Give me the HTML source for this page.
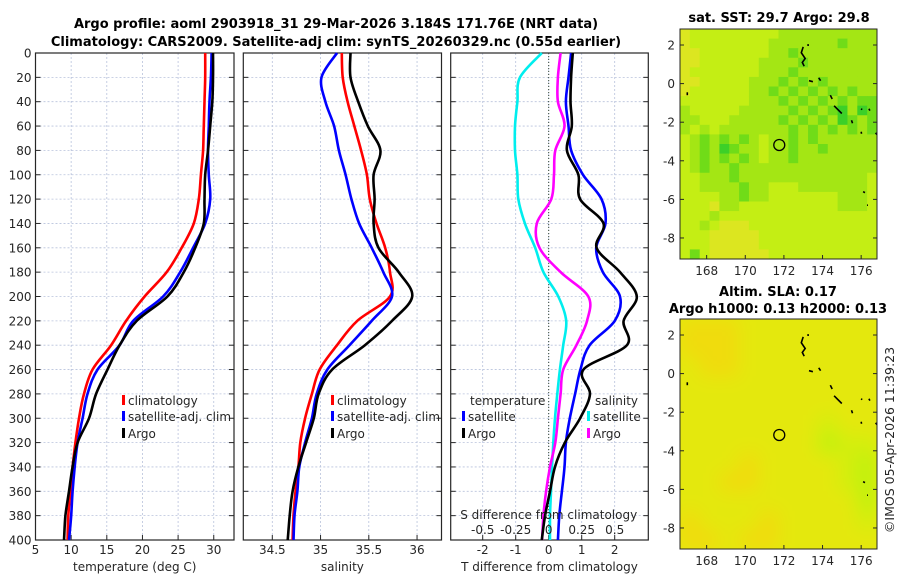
<!DOCTYPE html>
<html><head><meta charset="utf-8">
<style>
body{margin:0;background:#fff;}
svg{display:block;font-family:"DejaVu Sans","Liberation Sans",sans-serif;}
.tk{font-size:12px;fill:#262626;}
.ttl{font-size:13px;font-weight:bold;fill:#000;}
</style></head>
<body>
<svg id="chart" width="900" height="580" viewBox="0 0 900 580">
<defs>
<filter id="blur" x="-0.2" y="-0.2" width="1.4" height="1.4"><feGaussianBlur stdDeviation="9"/></filter>
<clipPath id="clipSST"><rect x="680" y="29" width="197" height="230"/></clipPath>
<clipPath id="clipSLA"><rect x="680" y="319" width="197" height="230"/></clipPath>
</defs>
<text class="ttl" x="336" y="28" text-anchor="middle">Argo profile: aoml 2903918_31 29-Mar-2026 3.184S 171.76E (NRT data)</text>
<text class="ttl" x="336" y="46" text-anchor="middle">Climatology: CARS2009. Satellite-adj clim: synTS_20260329.nc (0.55d earlier)</text>
<g id="layer"></g>
</svg>
<script>
// ---- data (depth in m) ----
const depths = [0,20,40,60,80,100,120,140,160,180,200,220,240,260,280,300,320,340,360,380,400];
const depthTicks = [0,20,40,60,80,100,120,140,160,180,200,220,240,260,280,300,320,340,360,380,400];
const tempTicks = [5,10,15,20,25,30];
const salTicks = [34.5,35,35.5,36];
const tdiffTicks = [-2,-1,0,1,2];
const sdiffTicks = [-0.5,-0.25,0,0.25,0.5];
const sdiffLabels = ["-0.5","-0.25","0","0.25","0.5"];
const climT = [28.8,28.8,28.7,28.6,28.5,28.2,27.9,27.2,25.5,23.4,20.3,17.7,15.6,13.0,11.8,11.1,10.6,10.2,9.9,9.6,9.5];
const satT  = [29.7,29.6,29.4,29.3,29.2,29.3,29.5,28.8,27.1,25.3,22.9,18.7,16.8,13.7,12.3,11.6,10.9,10.5,10.2,10.0,9.7];
const argoT = [29.9,29.9,29.8,29.5,29.2,28.8,28.7,28.6,27.4,25.8,23.5,19.2,16.8,15.1,13.5,12.5,10.9,10.2,9.7,9.2,9.0];
const climS = [35.22,35.23,35.28,35.35,35.42,35.48,35.51,35.58,35.67,35.72,35.72,35.38,35.17,34.99,34.91,34.84,34.79,34.77,34.74,34.72,34.71];
const satS  = [35.17,35.01,35.05,35.14,35.19,35.26,35.32,35.40,35.53,35.65,35.74,35.53,35.30,35.07,34.96,34.91,34.84,34.78,34.76,34.73,34.72];
const argoS = [35.31,35.31,35.39,35.49,35.62,35.55,35.56,35.55,35.60,35.81,35.95,35.74,35.46,35.12,34.98,34.93,34.85,34.77,34.71,34.68,34.66];
const satTdiff  = [-0.21,-0.87,-0.95,-1.02,-1.02,-0.95,-0.92,-0.72,-0.41,-0.16,0.29,0.53,0.44,0.34,0.26,0.19,0.14,0.10,0.07,0.04,0.04];
const argoTdiff = [0.73,0.68,0.66,0.70,0.55,0.90,0.95,1.66,1.45,2.16,2.67,2.27,2.37,1.05,1.25,0.95,0.49,0.19,0.04,-0.11,-0.21];
const satSdiff  = [0.17,0.15,0.13,0.15,0.17,0.26,0.40,0.43,0.36,0.41,0.54,0.50,0.31,0.24,0.20,0.16,0.13,0.12,0.10,0.08,0.07];
const argoSdiff = [0.09,0.07,0.07,0.12,0.05,0.04,0.02,-0.09,-0.07,0.09,0.30,0.29,0.21,0.11,0.09,0.07,0.05,0.01,-0.02,-0.04,-0.05];
// maps
const lonTicks = [168,170,172,174,176];
const latTicks = [2,0,-2,-4,-6,-8];
const argoLon = 171.76, argoLat = -3.18;
const sstGrid = [
"01111111112222222222","01111111122222223222","00111111122322222222","00111111222232222222",
"01111111222322222222","00111112223232322222","01111112232323232322","11111112223232323233",
"21111122222323234243","22111222223232324323","21212222222323232323","12323232122323222222",
"12324322122322322222","12323232122322222222","12322322222222222222","11222322222222222221",
"11222232211122222221","11112232211111112221","11102211111111112221","11121111111111111111",
"11210001111111111111","11100000111111111111","11100000111111111111","13100000011111111111"];
const slaGrid = ["0001111111","0001111111","1001111111","1111111111","1111111111","1111111211",
"1111111322","1110111123","1100111123","1111111113","0111011112","0010011111"];
const coastLon = [[173.0,172.9,173.1,172.95,173.05],[173.25,173.25],[173.3,173.5],[173.8,173.9],[174.4,174.5],[174.6,175.0],[175.5,175.55],[176.0,176.05],[176.4,176.45],[176.0,176.02],[176.75,176.82],[176.1,176.2],[176.3,176.35],[167.0,167.0]];
const coastLat = [[1.9,1.6,1.3,1.1,0.9],[2.05,1.95],[0.15,0.1],[0.3,0.15],[-0.6,-0.8],[-1.15,-1.55],[-1.9,-2.05],[-1.3,-1.35],[-1.3,-1.4],[-2.5,-2.6],[-2.55,-2.65],[-5.6,-5.65],[-6.3,-6.3],[-0.45,-0.6]];

const NS = "http://www.w3.org/2000/svg";
const layer = document.getElementById('layer');
function mk(tag, attrs, parent){ const e=document.createElementNS(NS,tag); for(const k in attrs) e.setAttribute(k,attrs[k]); (parent||layer).appendChild(e); return e; }
const Y0 = 53, Y1 = 540;
function yD(d){ return Y0 + d*(Y1-Y0)/400; }

function panel(name, xl, xr, xTicks, xScale, xLabels, xTitle, yLabels){
  const g = mk('g',{});
  
  
  depthTicks.forEach(d=>{
    const l=mk('line',{x1:xl,x2:xr,y1:yD(d),y2:yD(d),stroke:'#b8c2dc','stroke-width':0.8,'stroke-dasharray':'2,2'},g);
     
    const t1=mk('line',{x1:xl,x2:xl+5,y1:yD(d),y2:yD(d),stroke:'#262626','stroke-width':1},g);
     
    const t2=mk('line',{x1:xr-5,x2:xr,y1:yD(d),y2:yD(d),stroke:'#262626','stroke-width':1},g);
     
    if(yLabels){
      const tx=mk('text',{x:xl-4,y:yD(d)+4.5,'text-anchor':'end',class:'tk'},g); tx.textContent=d;
       
    }
  });
  xTicks.forEach((v,i)=>{
    const x=xScale(v);
    const l=mk('line',{x1:x,x2:x,y1:Y0,y2:Y1,stroke:'#b8c2dc','stroke-width':0.8,'stroke-dasharray':'2,2'},g);
     
    const tt=mk('line',{x1:x,x2:x,y1:Y1-5,y2:Y1,stroke:'#262626','stroke-width':1},g);
     
    const tx=mk('text',{x:x,y:554,'text-anchor':'middle',class:'tk'},g); tx.textContent=xLabels?xLabels[i]:v;
     
  });
  const b=mk('rect',{x:xl,y:Y0,width:xr-xl,height:Y1-Y0,fill:'none',stroke:'#262626','stroke-width':1.2},g);
   
  const at=mk('text',{x:(xl+xr)/2,y:571,'text-anchor':'middle',class:'tk'},g); at.textContent=xTitle;
   
  return g;
}
function smoothPath(P){
  let d='M'+P[0][0].toFixed(1)+','+P[0][1].toFixed(1);
  for(let i=0;i<P.length-1;i++){
    const p0=P[Math.max(0,i-1)],p1=P[i],p2=P[i+1],p3=P[Math.min(P.length-1,i+2)];
    const c1=[p1[0]+(p2[0]-p0[0])/6,p1[1]+(p2[1]-p0[1])/6];
    const c2=[p2[0]-(p3[0]-p1[0])/6,p2[1]-(p3[1]-p1[1])/6];
    d+=' C'+c1[0].toFixed(1)+','+c1[1].toFixed(1)+' '+c2[0].toFixed(1)+','+c2[1].toFixed(1)+' '+p2[0].toFixed(1)+','+p2[1].toFixed(1);
  }
  return d;
}
function line(g, vals, xs, color, name){
  const P = vals.map((v,i)=>[xs(v), yD(depths[i])]);
  const p=mk('path',{d:smoothPath(P),fill:'none',stroke:color,'stroke-width':2.6,'stroke-linejoin':'round'},g);
  
  
}
function legendItem(g, x, y, color, label, name){
  if(color){
    const r=mk('rect',{x:x,y:y-10,width:3,height:10,fill:color},g);
    
    
  }
  const t=mk('text',{x:x+6,y:y,class:'tk'},g); t.textContent=label;
  
  
}

// Panel 1 temperature
const xT = v => 35.5 + (v-5)*7.13;
const p1 = panel('temperature-panel',35.5,234,tempTicks,xT,null,'temperature (deg C)',true);
line(p1,climT,xT,'#ff0000','climatology-temp-line');
line(p1,satT,xT,'#0000ff','satellite-temp-line');
line(p1,argoT,xT,'#000000','argo-temp-line');
legendItem(p1,122,405,'#ff0000','climatology','legend-climatology');
legendItem(p1,122,421,'#0000ff','satellite-adj. clim','legend-satellite');
legendItem(p1,122,438,'#000000','Argo','legend-argo');

// Panel 2 salinity
const xS = v => 272.3 + (v-34.5)*96.5;
const p2 = panel('salinity-panel',243.3,441.5,salTicks,xS,null,'salinity',false);
line(p2,climS,xS,'#ff0000','climatology-sal-line');
line(p2,satS,xS,'#0000ff','satellite-sal-line');
line(p2,argoS,xS,'#000000','argo-sal-line');
legendItem(p2,331,405,'#ff0000','climatology','legend-climatology-sal');
legendItem(p2,331,421,'#0000ff','satellite-adj. clim','legend-satellite-sal');
legendItem(p2,331,438,'#000000','Argo','legend-argo-sal');

// Panel 3 differences
const xTd = v => 548.7 + v*33;
const xSd = v => 548.7 + v*132;
const p3 = panel('difference-panel',450.7,648.3,tdiffTicks,xTd,null,'T difference from climatology',false);
const zl=mk('line',{x1:xTd(0),x2:xTd(0),y1:Y0,y2:Y1,stroke:'#334433','stroke-width':1,'stroke-dasharray':'1,2'},p3);
 
line(p3,satTdiff,xTd,'#00eeee','satellite-tdiff-line');
line(p3,satSdiff,xSd,'#0000ff','satellite-sdiff-line');
line(p3,argoSdiff,xSd,'#ff00ff','argo-sdiff-line');
line(p3,argoTdiff,xTd,'#000000','argo-tdiff-line');
legendItem(p3,464,405,null,'temperature','legend-temperature-header');
legendItem(p3,589,405,null,'salinity','legend-salinity-header');
legendItem(p3,462,421,'#0000ff','satellite','legend-t-satellite');
legendItem(p3,462,438,'#000000','Argo','legend-t-argo');
legendItem(p3,587,421,'#00eeee','satellite','legend-s-satellite');
legendItem(p3,587,438,'#ff00ff','Argo','legend-s-argo');
const st=mk('text',{x:xTd(0),y:519,'text-anchor':'middle',class:'tk'},p3); st.textContent='S difference from climatology';
 
sdiffTicks.forEach((v,i)=>{
  const t=mk('text',{x:xSd(v),y:534,'text-anchor':'middle',class:'tk'},p3); t.textContent=sdiffLabels[i];
   
});

// Maps
const lonL=166.62, lonR=176.82, latT=2.83, latB=-9.09;
function mapPanel(name, top, grid, palette, clip, blur){
  const W=197, H=230;
  const lx = v => 680 + (v-lonL)/(lonR-lonL)*W;
  const ly = v => top + (latT-v)/(latT-latB)*H;
  const g=mk('g',{});
  
  
  const cg=mk('g',{'clip-path':'url(#'+clip+')'},g);
  const ig=mk('g',blur?{filter:'url(#blur)'}:{},cg);
  const rows=grid.length, cols=grid[0].length;
  const cw=W/cols, ch=H/rows;
  mk('rect',{x:660,y:top-20,width:W+40,height:H+40,fill:palette[1]},ig);
  grid.forEach((row,r)=>{ for(let c=0;c<cols;c++){
    const cell=mk('rect',{x:(680+c*cw).toFixed(2),y:(top+r*ch).toFixed(2),width:(cw+0.4).toFixed(2),height:(ch+0.4).toFixed(2),fill:palette[+row[c]]},ig);
    
    
  }});
  coastLon.forEach((arr,i)=>{
    const pts=arr.map((v,j)=>lx(v).toFixed(1)+','+ly(coastLat[i][j]).toFixed(1)).join(' ');
    const p=mk('polyline',{points:pts,fill:'none',stroke:'#000','stroke-width':1.6},cg);
    
    
  });
  const ci=mk('circle',{cx:lx(argoLon),cy:ly(argoLat),r:5.5,fill:'none',stroke:'#000','stroke-width':1.3},cg);
  
  
  const fr=mk('rect',{x:680,y:top,width:W,height:H,fill:'none',stroke:'#262626','stroke-width':1},g);
   
  lonTicks.forEach(v=>{
    const tk=mk('line',{x1:lx(v),x2:lx(v),y1:top+H,y2:top+H-4,stroke:'#262626'},g);
     
    const t=mk('text',{x:lx(v),y:top+H+16,'text-anchor':'middle',class:'tk'},g); t.textContent=v;
     
  });
  latTicks.forEach(v=>{
    const tk=mk('line',{x1:680,x2:684,y1:ly(v),y2:ly(v),stroke:'#262626'},g);
     
    const tk2=mk('line',{x1:873,x2:877,y1:ly(v),y2:ly(v),stroke:'#262626'},g);
     
    const t=mk('text',{x:675,y:ly(v)+4.5,'text-anchor':'end',class:'tk'},g); t.textContent=v;
     
  });
  return g;
}
mapPanel('sst-map',29,sstGrid,['#dce620','#c4ee14','#a4e614','#70dc18','#3cd028'],'clipSST',false);
mapPanel('sla-map',319,slaGrid,['#f0dc0a','#e4e80a','#d4ee08','#c0f208'],'clipSLA',true);
</script>
<script>
const s=document.getElementById('chart');
function tx(x,y,str,name,extra){const t=document.createElementNS("http://www.w3.org/2000/svg",'text');t.setAttribute('x',x);t.setAttribute('y',y);t.setAttribute('text-anchor','middle');t.setAttribute('class','ttl');if(extra)t.setAttribute('transform',extra);t.textContent=str;


s.appendChild(t);return t;}
tx(779,22,'sat. SST: 29.7 Argo: 29.8','sst-map-title');
tx(778,296,'Altim. SLA: 0.17','sla-map-title');
tx(778,313,'Argo h1000: 0.13 h2000: 0.13','sla-map-subtitle');
const c=tx(0,0,'©IMOS 05-Apr-2026 11:39:23','copyright-stamp','translate(894,440) rotate(-90)');
c.setAttribute('class','tk');
c.style.fontSize='12.5px';
</script>
</body></html>
